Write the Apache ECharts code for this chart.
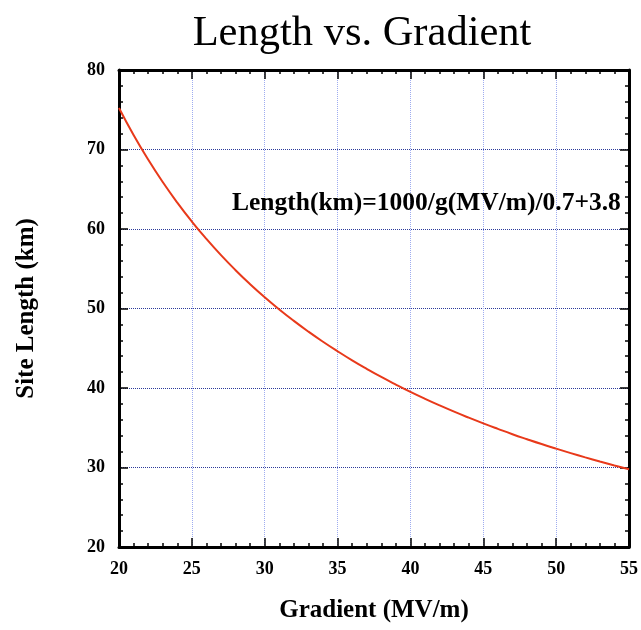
<!DOCTYPE html>
<html>
<head>
<meta charset="utf-8">
<script src="https://cdn.jsdelivr.net/npm/echarts@6/dist/echarts.min.js"></script>
<style>
  html, body { margin: 0; padding: 0; background: #fff; }
  #chart { width: 641px; height: 630px; }
</style>
</head>
<body>
<div id="chart"></div>
<script>
// gradient g (MV/m)
var gradient = [20, 21, 22, 23, 24, 25, 26, 27, 28, 29, 30, 31, 32, 33, 34, 35, 36, 37,
  38, 39, 40, 41, 42, 43, 44, 45, 46, 47, 48, 49, 50, 51, 52, 53, 54, 55];
// site length (km)
var siteLength = [75.23, 71.83, 68.74, 65.91, 63.32, 60.94, 58.75, 56.71, 54.82, 53.06,
  51.42, 49.88, 48.44, 47.09, 45.82, 44.62, 43.48, 42.41, 41.39, 40.43, 39.51, 38.64,
  37.81, 37.02, 36.27, 35.55, 34.86, 34.19, 33.56, 32.95, 32.37, 31.81, 31.27, 30.75,
  30.25, 29.77];

var titleText = "Length vs. Gradient";
var formulaText = "Length(km)=1000/g(MV/m)/0.7+3.8";
var xName = "Gradient (MV/m)";
var yName = "Site Length (km)";

var serif = "'Liberation Serif', 'Times New Roman', serif";

var points = gradient.map(function (g, i) { return [g, siteLength[i]]; });

function axisBase(show) {
  return {
    axisLine: { show: true, onZero: false, lineStyle: { color: "#000", width: 3 } },
    axisTick: { show: true, inside: true, length: 9, lineStyle: { color: "#000", width: 1.5 } },
    minorTick: { show: true, splitNumber: 5, length: 4, lineStyle: { color: "#000", width: 1.5 } },
    axisLabel: {
      show: show, color: "#000", fontFamily: serif, fontWeight: "bold", fontSize: 18
    }
  };
}

var chart = echarts.init(document.getElementById("chart"));
chart.setOption({
  animation: false,
  backgroundColor: "#fff",
  title: {
    text: titleText,
    left: 357,
    top: 7,
    textAlign: "center",
    textStyle: { fontFamily: serif, fontWeight: "normal", fontSize: 42.5, color: "#000" }
  },
  grid: { left: 119, top: 70, right: 9, bottom: 83 },
  xAxis: [
    Object.assign(axisBase(true), {
      type: "value", min: 20, max: 55, interval: 5, position: "bottom",
      name: xName, nameLocation: "middle", nameGap: 51,
      nameTextStyle: { fontFamily: serif, fontWeight: "bold", fontSize: 25, color: "#000" },
      axisLabel: { color: "#000", fontFamily: serif, fontWeight: "bold", fontSize: 18, margin: 13 },
      splitLine: { show: true, lineStyle: { color: "#9eacf0", width: 1, type: [1, 1] } }
    }),
    Object.assign(axisBase(false), {
      type: "value", min: 20, max: 55, interval: 5, position: "top",
      splitLine: { show: false }
    })
  ],
  yAxis: [
    Object.assign(axisBase(true), {
      type: "value", min: 20, max: 80, interval: 10, position: "left",
      name: yName, nameLocation: "middle", nameGap: 80,
      nameTextStyle: { fontFamily: serif, fontWeight: "bold", fontSize: 25, color: "#000" },
      axisLabel: { color: "#000", fontFamily: serif, fontWeight: "bold", fontSize: 18, margin: 14 },
      splitLine: { show: true, lineStyle: { color: "#2c3a9a", width: 1, type: [1, 1] } }
    }),
    Object.assign(axisBase(false), {
      type: "value", min: 20, max: 80, interval: 10, position: "right",
      splitLine: { show: false }
    })
  ],
  graphic: [{
    type: "text",
    left: 232,
    top: 190,
    z: 100,
    style: {
      text: formulaText,
      fontFamily: serif, fontWeight: "bold", fontSize: 25.5, fill: "#000"
    }
  }],
  series: [{
    type: "line",
    xAxisIndex: 0,
    yAxisIndex: 0,
    data: points,
    smooth: true,
    showSymbol: false,
    lineStyle: { color: "#e8391a", width: 2 }
  }]
});
</script>
</body>
</html>
